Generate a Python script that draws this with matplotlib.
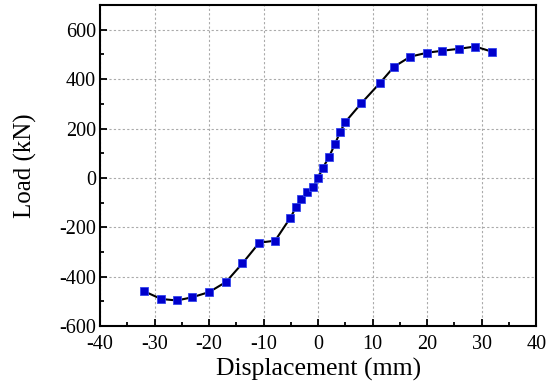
import matplotlib
matplotlib.use("Agg")
import matplotlib.pyplot as plt
from matplotlib.ticker import MultipleLocator

# displacement (mm) and load (kN)
disp = [-31.9, -28.8, -25.9, -23.1, -20.0, -16.9, -13.9, -10.8, -7.9,
        -5.1, -4.0, -3.1, -2.0, -0.9, 0.0, 0.9, 2.0, 3.1, 4.0, 5.0,
        7.9, 11.4, 13.9, 16.9, 20.0, 22.8, 25.9, 28.8, 31.9]
load = [-459, -490, -496, -483, -462, -421, -346, -262, -254,
        -161, -116, -84, -55, -38, 1, 42, 86, 138, 185, 227,
        302, 386, 450, 491, 507, 515, 523, 532, 511]

plt.rcParams["font.family"] = ["Liberation Serif", "DejaVu Serif"]
plt.rcParams["axes.unicode_minus"] = False

fig = plt.figure(figsize=(5.5, 3.86), dpi=100)
ax = fig.add_axes([0.182, 0.155, 0.793, 0.832])

ax.plot(disp, load, color="black", linewidth=1.5,
        marker="s", markersize=6, markerfacecolor="#0000cc",
        markeredgecolor="#3344ee", markeredgewidth=0.6, zorder=3)

ax.set_xlim(-40, 40)
ax.set_ylim(-600, 700)
ax.xaxis.set_major_locator(MultipleLocator(10))
ax.xaxis.set_minor_locator(MultipleLocator(5))
ax.yaxis.set_major_locator(MultipleLocator(200))
ax.yaxis.set_minor_locator(MultipleLocator(100))

ax.grid(True, which="major", linestyle=(0, (2, 2)), color="#aaaaaa", linewidth=0.8)
ax.tick_params(which="both", direction="in", labelsize=14.5, width=1.3)
ax.tick_params(which="major", length=5)
ax.tick_params(which="minor", length=3)
ax.tick_params(axis="y", pad=3)
ax.tick_params(axis="x", pad=6)
for s in ax.spines.values():
    s.set_linewidth(1.5)

ax.set_xlabel("Displacement (mm)", fontsize=18.5, labelpad=3)
ax.set_ylabel("Load (kN)", fontsize=18, labelpad=16)

fig.savefig("out.png", dpi=100)
